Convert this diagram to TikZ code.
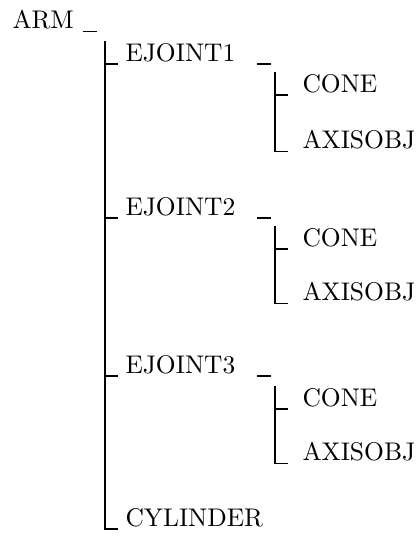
\documentclass[tikz,border=0pt]{standalone}
\usepackage{fontspec}
\begin{document}
\begin{tikzpicture}[x=0.392pt,y=-0.392pt,item/.style={anchor=west,inner sep=0pt,font=\fontsize{10}{12}\selectfont},tree/.style={line width=0.7pt}] %
    \useasboundingbox (0,0) rectangle (418,540);
    \node[item] (arm) at (12,20) {ARM} ; %
    \node[item] (ejoint1) at (125,53) {EJOINT1} ; %
    \node[item] (cone1) at (302,84) {CONE} ;
    \node[item] (axisobj1) at (302,140) {AXISOBJ} ;
    \node[item] (ejoint2) at (125,207) {EJOINT2} ; %
    \node[item] (cone2) at (302,238) {CONE} ;
    \node[item] (axisobj2) at (302,292) {AXISOBJ} ;
    \node[item] (ejoint3) at (125,365) {EJOINT3} ; %
    \node[item] (cone3) at (302,398) {CONE} ;
    \node[item] (axisobj3) at (302,452) {AXISOBJ} ;
    \node[item] (cylinder) at (125,518) {CYLINDER} ;
    % dashes after the parents
    \draw[tree] ([shift={(71,1.5)}]arm.south west) -- ++(14,0) ;
    \draw[tree] ([shift={(132,1.5)}]ejoint1.south west) -- ++(14,0) ;
    \draw[tree] ([shift={(132,1.5)}]ejoint2.south west) -- ++(14,0) ;
    \draw[tree] ([shift={(132,1.5)}]ejoint3.south west) -- ++(14,0) ;
    % main trunk
    \draw[tree] ([shift={(-20,-12)}]ejoint1.west) |- ([shift={(-7,1.5)}]cylinder.south west) ;
    \draw[tree] ([shift={(-20,1.5)}]ejoint1.south west) -- ++(13,0) ;
    \draw[tree] ([shift={(-20,1.5)}]ejoint2.south west) -- ++(13,0) ;
    \draw[tree] ([shift={(-20,1.5)}]ejoint3.south west) -- ++(13,0) ;
    % branches of the joints
    \draw[tree] ([shift={(-27,-12)}]cone1.west) |- ([shift={(-14,1.5)}]axisobj1.south west) ;
    \draw[tree] ([shift={(-27,1.5)}]cone1.south west) -- ++(13,0) ;
    \draw[tree] ([shift={(-27,-12)}]cone2.west) |- ([shift={(-14,1.5)}]axisobj2.south west) ;
    \draw[tree] ([shift={(-27,1.5)}]cone2.south west) -- ++(13,0) ;
    \draw[tree] ([shift={(-27,-12)}]cone3.west) |- ([shift={(-14,1.5)}]axisobj3.south west) ;
    \draw[tree] ([shift={(-27,1.5)}]cone3.south west) -- ++(13,0) ;
  \end{tikzpicture}
\end{document}
